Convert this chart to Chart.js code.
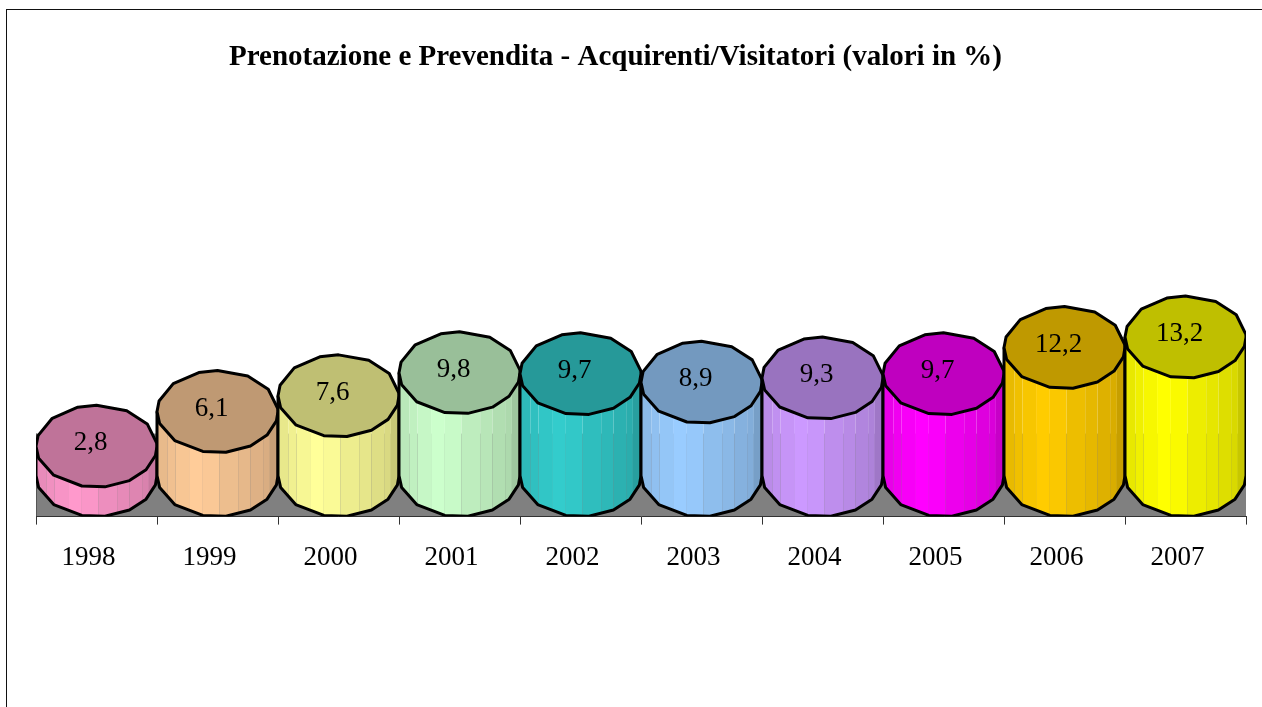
<!DOCTYPE html>
<html>
<head>
<meta charset="utf-8">
<title>Prenotazione e Prevendita</title>
<script src="https://cdn.jsdelivr.net/npm/chart.js@4"></script>
<style>
  html, body { margin: 0; padding: 0; background: #fff; overflow: hidden; }
  #cornice { position: absolute; left: 6px; top: 9px; right: 0; bottom: 0; border-top: 1px solid #111; border-left: 1px solid #111; }
  #grafico { position: absolute; left: 0; top: 0; }
</style>
</head>
<body>
<div id="cornice"></div>
<canvas id="grafico" width="1262" height="707"></canvas>
<script>
const anni = ['1998', '1999', '2000', '2001', '2002', '2003', '2004', '2005', '2006', '2007'];
const valori = [2.8, 6.1, 7.6, 9.8, 9.7, 8.9, 9.3, 9.7, 12.2, 13.2];
const coloriLato = ['#FF99CC', '#FFCC99', '#FFFF99', '#CCFFCC', '#33CCCC', '#99CCFF', '#CC99FF', '#FF00FF', '#FFCC00', '#FFFF00'];
const titolo = 'Prenotazione e Prevendita - Acquirenti/Visitatori (valori in %)';

const FONT = '"Liberation Serif", serif';
const RY = 41;           // semiasse verticale dell'ellisse
const PROFONDITA = 83;   // altezza del pavimento grigio

// il cilindro di Excel e' in realta' un poligono: angoli dei vertici in gradi
const angoliFacce = [180, 146, 134, 118, 104, 88, 70, 57, 41, 30, 0];
const luceFacce = [0.91, 0.94, 0.97, 1, 0.98, 0.93, 0.9, 0.87, 0.85, 0.78];
const contornoFronte = [180, 163, 135, 104, 82, 57, 35, 13, 0];
const contornoRetro = [356, 327, 300, 270, 252, 223, 195];

function scurisci(hex, f) {
  const n = parseInt(hex.slice(1), 16);
  const r = Math.round((n >> 16 & 255) * f);
  const g = Math.round((n >> 8 & 255) * f);
  const b = Math.round((n & 255) * f);
  return `rgb(${r}, ${g}, ${b})`;
}

function puntoEllisse(cx, cy, rx, gradi) {
  const a = gradi * Math.PI / 180;
  return [cx + rx * Math.cos(a), cy + RY * Math.sin(a)];
}

function tracciaLato(ctx, x, y, base, rx) {
  ctx.beginPath();
  ctx.moveTo(x - rx, y);
  contornoFronte.forEach(g => {
    const [px, py] = puntoEllisse(x, base, rx, g);
    ctx.lineTo(px, py);
  });
  ctx.lineTo(x + rx, y);
}

// ogni barra viene disegnata come cilindro, usando x, y, base e width calcolati dalle scale
Chart.BarElement.prototype.draw = function (ctx) {
  const { x, y, base, width } = this;
  const rx = width / 2;
  const colore = this.options.backgroundColor;

  // facce laterali
  ctx.save();
  tracciaLato(ctx, x, y, base, rx);
  ctx.closePath();
  ctx.clip();
  for (let i = 0; i < angoliFacce.length - 1; i++) {
    const x1 = puntoEllisse(x, 0, rx, angoliFacce[i])[0];
    const x2 = puntoEllisse(x, 0, rx, angoliFacce[i + 1])[0];
    ctx.fillStyle = scurisci(colore, luceFacce[i]);
    ctx.fillRect(x1, y, x2 - x1, base + RY - y);
  }
  ctx.restore();

  ctx.save();
  ctx.strokeStyle = '#000';
  ctx.lineWidth = 3;
  ctx.lineJoin = 'round';

  // contorno laterale e fondo
  tracciaLato(ctx, x, y, base, rx);
  ctx.stroke();

  // coperchio
  ctx.beginPath();
  contornoFronte.concat(contornoRetro).forEach((g, i) => {
    const [px, py] = puntoEllisse(x, y, rx, g);
    if (i === 0) ctx.moveTo(px, py); else ctx.lineTo(px, py);
  });
  ctx.closePath();
  ctx.fillStyle = scurisci(colore, 0.75);
  ctx.fill();
  ctx.stroke();

  ctx.restore();
};

const pavimento = {
  id: 'pavimento',
  beforeDraw(chart) {
    const { ctx, chartArea } = chart;
    ctx.save();
    ctx.fillStyle = '#808080';
    ctx.fillRect(chartArea.left, chartArea.bottom - PROFONDITA, chartArea.right - chartArea.left, PROFONDITA);
    ctx.fillStyle = '#555';
    ctx.fillRect(chartArea.left, chartArea.bottom - PROFONDITA, 1, PROFONDITA);
    ctx.restore();
  }
};

const etichette = {
  id: 'etichette',
  afterDatasetsDraw(chart) {
    const { ctx } = chart;
    const meta = chart.getDatasetMeta(0);
    ctx.save();
    ctx.font = '27px ' + FONT;
    ctx.fillStyle = '#000';
    ctx.textAlign = 'center';
    ctx.textBaseline = 'middle';
    meta.data.forEach((bar, i) => {
      ctx.fillText(valori[i].toFixed(1).replace('.', ','), bar.x - 6, bar.y - 3);
    });
    ctx.restore();
  }
};

// nell'originale il titolo non e' centrato sull'area: lo sposto un po' a sinistra
const spostaTitolo = {
  id: 'spostaTitolo',
  afterLayout(chart) {
    chart.titleBlock.left = 0;
    chart.titleBlock.right = 1231;
  }
};

new Chart(document.getElementById('grafico'), {
  type: 'bar',
  data: {
    labels: anni,
    datasets: [{
      data: valori,
      backgroundColor: coloriLato,
      barPercentage: 1,
      categoryPercentage: 1
    }]
  },
  plugins: [pavimento, etichette, spostaTitolo],
  options: {
    responsive: false,
    animation: false,
    layout: { padding: { left: 36, right: 16, top: 0, bottom: 116 } },
    plugins: {
      legend: { display: false },
      tooltip: { enabled: false },
      title: {
        display: true,
        text: titolo,
        color: '#000',
        font: { family: FONT, size: 29, weight: 'bold' },
        padding: { top: 40, bottom: 33.5 }
      }
    },
    scales: {
      x: {
        grid: { drawOnChartArea: false, tickLength: 8, tickColor: '#333', offset: true },
        border: { color: '#333', width: 1 },
        ticks: { color: '#000', font: { family: FONT, size: 27 }, padding: 17, labelOffset: -8, maxRotation: 0, autoSkip: false }
      },
      y: { display: false, min: -3.905, max: 35 }
    }
  }
});
</script>
</body>
</html>
